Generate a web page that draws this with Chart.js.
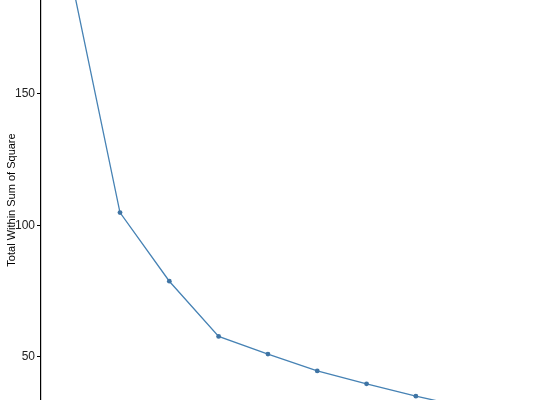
<!DOCTYPE html>
<html>
<head>
<meta charset="utf-8">
<script src="https://cdn.jsdelivr.net/npm/chart.js@4"></script>
<style>
html,body{margin:0;padding:0;background:#fff;}
#wrap{width:550px;height:400px;position:relative;}
</style>
</head>
<body>
<div id="wrap"><canvas id="c" width="550" height="400"></canvas></div>
<script>
const clusters = [1, 2, 3, 4, 5, 6, 7, 8, 9, 10];
const wss = [195, 104.9, 78.8, 57.8, 51.1, 44.7, 39.8, 35.1, 31.0, 27.5];
const yTicks = [50, 100, 150];
const yTitle = "Total Within Sum of Square";

const points = clusters.map((k, i) => ({x: k, y: wss[i]}));

new Chart(document.getElementById('c'), {
  type: 'line',
  data: {
    datasets: [{
      data: points,
      borderColor: '#4682B4',
      backgroundColor: '#4682B4',
      borderWidth: 1.3,
      pointRadius: 2.4,
      pointBorderWidth: 0,
      pointBackgroundColor: '#3f74a4',
      tension: 0
    }]
  },
  options: {
    responsive: false,
    animation: false,
    layout: {padding: 0, autoPadding: false},
    plugins: {legend: {display: false}, tooltip: {enabled: false}},
    scales: {
      x: {
        type: 'linear',
        display: false,
        min: 0.398,
        max: 10.72
      },
      y: {
        type: 'linear',
        min: 33.65,
        max: 185.7,
        afterBuildTicks: (s) => { s.ticks = yTicks.map(v => ({value: v})); },
        afterFit: (s) => { s.width = 41; s.paddingTop = 0; s.paddingBottom = 0; },
        border: {display: true, color: '#000', width: 1.2},
        grid: {drawOnChartArea: false, drawTicks: true, tickLength: 4, color: '#000', tickWidth: 1},
        ticks: {
          color: '#222',
          padding: 2,
          font: {family: 'Liberation Sans, Arial, sans-serif', size: 12}
        },
        title: {
          display: true,
          text: yTitle,
          color: '#000',
          padding: {top: 5, bottom: 0},
          font: {family: 'Liberation Sans, Arial, sans-serif', size: 11}
        }
      }
    }
  }
});
</script>
</body>
</html>
